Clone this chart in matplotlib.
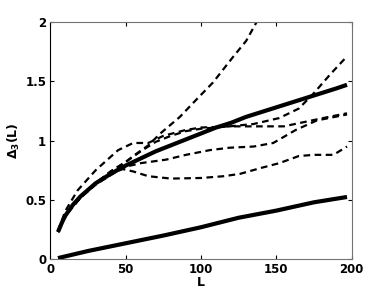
import matplotlib
matplotlib.use("Agg")
import matplotlib.pyplot as plt

# thick solid reference curves
goe_L = [5, 8, 10, 15, 20, 30, 40, 50, 60, 70, 80, 90, 100, 110, 120, 130, 140,
         150, 160, 170, 180, 190, 197]
goe_y = [0.23, 0.32, 0.37, 0.46, 0.53, 0.64, 0.72, 0.79, 0.85, 0.91, 0.96, 1.01,
         1.06, 1.11, 1.15, 1.20, 1.24, 1.28, 1.32, 1.36, 1.40, 1.44, 1.47]
poi_L = [5, 25, 50, 75, 100, 125, 150, 175, 197]
poi_y = [0.01, 0.07, 0.135, 0.20, 0.27, 0.35, 0.41, 0.48, 0.525]

# dashed curves
a_L = [5, 10, 20, 30, 40, 50, 55, 65, 73, 86, 95, 108, 121, 130, 137, 141]
a_y = [0.23, 0.37, 0.52, 0.64, 0.74, 0.82, 0.87, 0.96, 1.06, 1.20, 1.32, 1.49,
       1.70, 1.84, 2.0, 2.07]
b_L = [5, 10, 18, 30, 45, 55, 65, 75, 90, 100, 120, 140, 155, 170, 185, 197]
b_y = [0.24, 0.41, 0.58, 0.75, 0.92, 0.98, 0.98, 1.04, 1.09, 1.11, 1.12, 1.12,
       1.12, 1.16, 1.20, 1.23]
c_L = [5, 10, 20, 30, 40, 50, 60, 70, 80, 90, 100, 119, 135, 152, 165, 175,
       186, 197]
c_y = [0.23, 0.38, 0.52, 0.64, 0.74, 0.82, 0.91, 0.99, 1.04, 1.08, 1.10, 1.12,
       1.14, 1.19, 1.27, 1.40, 1.56, 1.71]
d_L = [5, 10, 20, 30, 44, 50, 60, 77, 90, 106, 119, 135, 148, 163, 177, 197]
d_y = [0.23, 0.37, 0.52, 0.63, 0.74, 0.78, 0.81, 0.84, 0.88, 0.92, 0.94, 0.95,
       0.98, 1.09, 1.17, 1.22]
e_L = [5, 10, 20, 30, 40, 48, 55, 65, 80, 100, 115, 126, 140, 152, 165, 175,
       188, 197]
e_y = [0.23, 0.37, 0.52, 0.63, 0.72, 0.76, 0.74, 0.70, 0.68, 0.685, 0.70, 0.72,
       0.77, 0.81, 0.87, 0.88, 0.88, 0.95]

fig = plt.figure(figsize=(3.88, 2.92), dpi=100)
ax = fig.add_axes([0.130, 0.112, 0.776, 0.813])

for xs, ys in [(a_L, a_y), (b_L, b_y), (c_L, c_y), (d_L, d_y), (e_L, e_y)]:
    ax.plot(xs, ys, color="black", linestyle=(0, (3.0, 2.0)), linewidth=1.6)
ax.plot(goe_L, goe_y, color="black", linewidth=3.0, solid_capstyle="butt")
ax.plot(poi_L, poi_y, color="black", linewidth=3.0, solid_capstyle="butt")

ax.set_xlim(0, 200)
ax.set_ylim(0, 2)
ax.set_xticks([0, 50, 100, 150, 200])
ax.set_yticks([0, 0.5, 1, 1.5, 2])
ax.set_yticklabels(["0", "0.5", "1", "1.5", "2"])
ax.tick_params(direction="in", length=3, labelsize=8.5, pad=3,
               top=True, right=True)
for lab in ax.get_xticklabels() + ax.get_yticklabels():
    lab.set_fontweight("bold")
for side in ["top", "right", "bottom"]:
    ax.spines[side].set_color("0.45")
ax.spines["left"].set_color("black")
ax.set_xlabel("L", fontsize=9, fontweight="bold", labelpad=0)
ax.set_ylabel(r"$\mathbf{\Delta_3(L)}$", fontsize=9, labelpad=2)

fig.savefig("out.png", dpi=100)
